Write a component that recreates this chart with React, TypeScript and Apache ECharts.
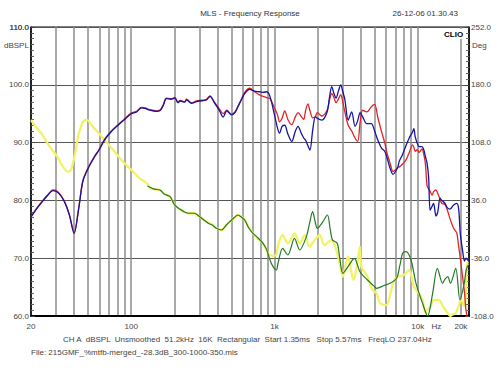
import React, { useEffect, useRef } from "react";
import * as echarts from "echarts";

// ---- Data ----
const magFreq = [
  20, 22, 24, 26, 28.5, 31, 34, 37, 40, 43,
  46, 50, 55.7, 60, 65, 72, 81, 90, 100, 109,
  118, 125, 135, 150, 160, 168, 176, 190, 202, 212,
  220, 236, 244, 263, 286, 300, 326, 336, 355, 383,
  395, 416, 438, 465, 500, 530, 556, 590, 620, 672,
  727, 780, 832, 880, 930, 1000, 1050, 1085, 1130, 1180,
  1240, 1320, 1400, 1460, 1540, 1600, 1650, 1710, 1770, 1845,
  1930, 1990, 2140, 2330, 2420, 2510, 2600, 2690, 2800, 2900,
  3000, 3100, 3270, 3460, 3650, 3810, 3960, 4120, 4410, 4740,
  5000, 5270, 5600, 5880, 6070, 6400, 6720, 7000, 7260, 7440,
  7850, 8280, 8720, 9180, 9390, 9600, 9920, 10200, 10700, 11000,
  11300, 11600, 11900, 12200, 12600, 12900, 13400, 13800, 14300, 14700,
  15500, 16000, 16800, 17500, 18000, 18700, 19300, 19800, 20500, 21200,
  21700, 22100, 22700,
];

const redDb = [
  77.2, 78.7, 79.9, 80.9, 81.8, 81.4, 80.0, 77.6, 74.4, 78.6,
  83.4, 85.6, 87.7, 88.9, 90.5, 91.9, 93.1, 94.1, 95.1, 95.4,
  96.1, 96.0, 95.7, 95.5, 95.7, 96.6, 97.7, 97.6, 97.8, 97.0,
  97.3, 97.1, 97.5, 96.9, 97.2, 97.3, 97.4, 97.5, 98.1, 96.9,
  96.5, 95.7, 95.0, 95.6, 94.9, 95.3, 96.3, 97.6, 98.7, 99.4,
  98.8, 98.3, 98.0, 97.8, 97.6, 96.0, 94.8, 93.6, 94.2, 95.5,
  94.0, 93.1, 94.5, 95.2, 94.5, 94.0, 95.6, 96.7, 95.5, 94.3,
  94.5, 95.2, 94.6, 95.6, 97.3, 98.5, 97.8, 96.9, 97.6, 98.3,
  97.0, 95.3, 93.0, 92.0, 90.8, 90.2, 93.5, 95.6, 95.3, 96.2,
  96.6, 94.3, 91.8, 90.0, 88.4, 86.5, 85.0, 85.3, 85.7, 85.8,
  86.3, 87.0, 88.3, 89.6, 89.2, 88.5, 88.8, 88.3, 88.9, 88.0,
  86.4, 82.6, 82.0, 81.6, 80.9, 81.5, 81.8, 81.2, 80.2, 79.5,
  79.3, 78.5, 76.8, 75.6, 75.0, 74.4, 72.0, 70.0, 67.0, 64.0,
  61.0, 60.0, 59.0,
];

const blueDb = [
  77.1, 78.6, 79.8, 80.8, 81.7, 81.3, 79.9, 77.5, 74.3, 78.5,
  83.3, 85.5, 87.6, 88.8, 90.4, 91.8, 93.0, 94.0, 95.0, 95.3,
  96.0, 95.9, 95.6, 95.4, 95.6, 96.5, 97.6, 97.5, 97.7, 96.9,
  97.2, 97.0, 97.4, 96.8, 97.1, 97.2, 97.3, 97.4, 98.0, 96.8,
  96.3, 95.4, 94.4, 95.5, 94.8, 95.2, 96.2, 97.5, 98.5, 99.2,
  98.9, 98.8, 98.7, 98.8, 98.0, 94.8, 92.5, 91.6, 92.8, 93.0,
  91.5, 90.2, 92.0, 92.8, 91.6, 90.8, 90.4, 89.5, 88.7, 92.0,
  94.5, 94.2, 93.9, 95.3, 97.8, 99.7, 98.5, 97.7, 99.0, 100.0,
  98.8, 97.4, 93.9, 95.3, 92.8, 93.8, 95.2, 94.5, 93.3, 93.3,
  92.0, 90.4, 89.0, 88.5, 87.6, 85.6, 84.5, 85.0, 85.8, 86.8,
  88.0, 89.5, 90.8, 91.8, 92.4, 91.0, 89.9, 89.3, 89.3, 88.8,
  87.6, 86.5, 84.1, 78.3, 79.0, 79.5, 77.3, 78.0, 80.4, 80.0,
  79.5, 78.8, 78.5, 79.0, 79.3, 79.5, 78.5, 74.3, 71.5, 69.5,
  70.0, 69.8, 69.5,
];

const yellowFreq = [
  20, 21.5, 23.6, 25.5, 27, 30.5, 33.4, 36.3, 38, 39.2,
  41, 42.6, 44.5, 46.1, 48.7, 51, 54.1, 60, 65.3, 70,
  76.8, 85, 95, 103, 111.7, 120, 128, 134.7, 145, 159,
  170, 187, 200, 215, 250, 275, 301, 320, 345, 370,
  393, 427, 460, 488, 520, 556, 590, 620, 660, 708,
  760, 832, 905, 970, 1030, 1059, 1140, 1240, 1380, 1500,
  1630, 1760, 1910, 2070, 2230, 2495, 2740, 2870, 3000, 3130,
  3260, 3410, 3570, 3800, 3950, 4040, 4460, 4800, 5160, 5460,
  6070, 6400, 6720, 7200, 8000, 8700, 9390, 10200, 10800, 11300,
  11700, 12300, 12900, 14000, 15000, 15900, 16900, 17500, 18400, 19300,
  20100, 21100, 21600, 21900, 22300,
];

const yellowDeg = [
  136, 128, 119.6, 110, 103, 90.4, 78, 71.8, 74, 82.2,
  98, 115.4, 127, 134, 136.2, 134, 127.8, 119, 111.2, 105,
  96.7, 87, 78, 72, 65.5, 61, 58, 52, 50, 49,
  44, 40.6, 31, 26, 20, 20, 15.7, 12, 8.5, 6,
  1.5, -0.9, 5, 9.5, 14, 17.8, 15, 11.6, 3, -5,
  -11, -17.4, -30, -33, -32, -19.6, -7.1, -17.4, -5, -17.4,
  -7.1, -21.6, -13.3, -7.1, -19.6, -13.3, -29.9, -45, -59, -45,
  -33.9, -50, -63.2, -40, -21.6, -46.5, -59, -75, -79.7, -92.2,
  -94.3, -82, -67.3, -59, -57, -50.7, -71.5, -80, -88, -104,
  -100, -96, -88, -88, -96, -102.6, -108, -106, -104.7, -95,
  -88, -96, -85, -50.7, -40,
];

const greenFreq = [
  130, 145, 159, 170, 187, 200, 215, 250, 275, 301,
  320, 345, 370, 393, 427, 460, 488, 520, 556, 590,
  620, 660, 708, 760, 832, 880, 950, 1030, 1059, 1140,
  1240, 1380, 1500, 1670, 1760, 1845, 1920, 1990, 2150, 2340,
  2450, 2540, 2740, 2850, 3000, 3260, 3610, 3950, 4460, 5000,
  5160, 5800, 6390, 7120, 7500, 7850, 8280, 8970, 9720, 10800,
  11700, 12700, 13700, 14900, 15500, 16200, 16900, 18400, 19700, 21100,
  21700, 22300,
];

const greenDeg = [
  54, 50, 49, 44, 40.6, 31, 26, 20, 20, 15.7,
  12, 7.5, 5, 1.2, -0.9, 5, 9.5, 14, 17.8, 15,
  11.6, 2, -5, -10, -17.4, -25, -42.3, -50.7, -42.3, -23.7,
  -32, -11.2, -25.8, -9.2, 8, 21.9, 10, 1.2, 8, 17.8,
  0, -13.3, -17.4, -35, -54.8, -46.5, -36.1, -52.8, -63.2, -71.5,
  -73.5, -70, -67.3, -61, -45, -29.9, -27.9, -38.3, -67.3, -92.2,
  -108, -79.7, -48.6, -67.3, -62, -59, -67.3, -48.6, -88, -67.3,
  -52, -45,
];

const gridFreqs = [
  20, 30, 40, 50, 60, 70, 80, 90, 100, 200, 300, 400, 500, 600, 700, 800, 900,
  1000, 2000, 3000, 4000, 5000, 6000, 7000, 8000, 9000, 10000, 20000,
];
const labelFreqs = [20, 100, 1000, 10000, 13500, 20000];
const labelTexts = ["20", "100", "1k", "10k", "Hz", "20k"];
const dbTicks = [60, 70, 80, 90, 100, 110];

const F_MIN = 20;
const F_MAX = 22780;
const DB_MIN = 60;
const DB_MAX = 110;
const DEG_MIN = -108; // phase axis bottom
const DEG_SPAN = 360;

const FONT = '"Liberation Sans", Arial, sans-serif';

export default function App() {
  const ref = useRef<HTMLDivElement>(null);

  useEffect(() => {
    if (!ref.current) return;
    const chart = echarts.init(ref.current, null, { renderer: "svg" });
    const lg = (f: number) => Math.log10(f);
    const labelLogs = labelFreqs.map(lg);

    const magRed = magFreq.map((f, i) => [lg(f), redDb[i]]);
    const magBlue = magFreq.map((f, i) => [lg(f), blueDb[i]]);
    const phYellow = yellowFreq.map((f, i) => [lg(f), yellowDeg[i] - DEG_MIN]);
    const phGreen = greenFreq.map((f, i) => [lg(f), greenDeg[i] - DEG_MIN]);

    const textStyle = { fontFamily: FONT, fontSize: 8, color: "#444" };

    chart.setOption({
      animation: false,
      backgroundColor: "#fff",
      grid: {
        left: 31,
        right: 31,
        top: 27,
        bottom: 59,
        containLabel: false,
        show: true,
        borderColor: "#000",
        borderWidth: 1,
        backgroundColor: "transparent",
      },
      xAxis: {
        type: "value",
        min: lg(F_MIN),
        max: lg(F_MAX),
        position: "bottom",
        axisLine: { show: true, onZero: false, lineStyle: { color: "#000", width: 2 } },
        axisTick: { show: false, customValues: gridFreqs.map(lg) },
        splitLine: { show: true, lineStyle: { color: "#8c8c8c", width: 1.5 } },
        axisLabel: {
          customValues: labelLogs,
          margin: 6,
          ...textStyle,
          formatter: (v: number) => {
            for (let i = 0; i < labelLogs.length; i++) {
              if (Math.abs(labelLogs[i] - v) < 1e-6) return labelTexts[i];
            }
            return "";
          },
        },
      },
      yAxis: [
        {
          type: "value",
          min: DB_MIN,
          max: DB_MAX,
          interval: 10,
          position: "left",
          axisLine: { show: true, onZero: false, lineStyle: { color: "#000", width: 1.5 } },
          axisTick: { show: true, inside: true, length: 4, lineStyle: { color: "#444" } },
          minorTick: { show: true, splitNumber: 10, length: 3, lineStyle: { color: "#666" } },
          splitLine: { show: true, lineStyle: { color: "#555", width: 1 } },
          axisLabel: {
            margin: 2,
            customValues: dbTicks,
            showMinLabel: true,
            showMaxLabel: true,
            hideOverlap: false,
            ...textStyle,
            formatter: (v: number) => v.toFixed(1),
          },
        },
        {
          type: "value",
          min: 0,
          max: DEG_SPAN,
          interval: 72,
          position: "right",
          axisLine: { show: true, onZero: false, lineStyle: { color: "#000", width: 1.5 } },
          axisTick: { show: true, inside: true, length: 4, lineStyle: { color: "#444" } },
          minorTick: { show: true, splitNumber: 10, length: 3, lineStyle: { color: "#666" } },
          splitLine: { show: false },
          axisLabel: {
            margin: 2,
            showMinLabel: true,
            showMaxLabel: true,
            hideOverlap: false,
            ...textStyle,
            formatter: (v: number) => (v + DEG_MIN).toFixed(1),
          },
        },
      ],
      series: [
        {
          type: "line",
          name: "phase A",
          yAxisIndex: 1,
          data: phYellow,
          showSymbol: false,
          symbol: "none",
          smooth: 0.3,
          lineStyle: { color: "#f2f266", width: 2.3 },
          z: 2,
        },
        {
          type: "line",
          name: "phase B",
          yAxisIndex: 1,
          data: phGreen,
          showSymbol: false,
          symbol: "none",
          smooth: 0.3,
          lineStyle: { color: "#237a23", width: 1.2 },
          z: 3,
        },
        {
          type: "line",
          name: "mag A",
          yAxisIndex: 0,
          data: magRed,
          showSymbol: false,
          symbol: "none",
          smooth: 0.3,
          lineStyle: { color: "#e02424", width: 1.3 },
          z: 4,
        },
        {
          type: "line",
          name: "mag B",
          yAxisIndex: 0,
          data: magBlue,
          showSymbol: false,
          symbol: "none",
          smooth: 0.3,
          lineStyle: { color: "#1414a0", width: 1.3 },
          z: 5,
        },
      ],
      graphic: [
        {
          type: "text",
          left: "center",
          top: 9,
          style: { text: "MLS - Frequency Response", font: `8px ${FONT}`, fill: "#333" },
        },
        {
          type: "text",
          right: 42,
          top: 9,
          style: { text: "26-12-06 01.30.43", font: `8px ${FONT}`, fill: "#333" },
        },
        {
          type: "text",
          left: 443,
          top: 29,
          z: 10,
          style: {
            text: "CLIO",
            font: `bold 8px ${FONT}`,
            fill: "#000",
            backgroundColor: "#fff",
            padding: [1, 1, 1, 1],
          },
        },
        {
          type: "text",
          x: 29,
          y: 27,
          style: {
            text: "110.0",
            font: `8px ${FONT}`,
            fill: "#444",
            align: "right",
            verticalAlign: "middle",
          },
        },
        {
          type: "text",
          left: 4,
          top: 41,
          style: { text: "dBSPL", font: `8px ${FONT}`, fill: "#444" },
        },
        {
          type: "text",
          left: 472,
          top: 41,
          style: { text: "Deg", font: `8px ${FONT}`, fill: "#444" },
        },
        {
          type: "text",
          left: 63,
          top: 335,
          style: {
            text: "CH A  dBSPL  Unsmoothed  51.2kHz  16K  Rectangular  Start 1.35ms   Stop 5.57ms   FreqLO 237.04Hz",
            font: `8px ${FONT}`,
            fill: "#444",
          },
        },
        {
          type: "text",
          left: 31,
          top: 348,
          style: {
            text: "File: 215GMF_%mtfb-merged_-28.3dB_300-1000-350.mls",
            font: `8px ${FONT}`,
            fill: "#444",
          },
        },
      ],
    });

    return () => chart.dispose();
  }, []);

  return (
    <div
      ref={ref}
      style={{ position: "fixed", left: 0, top: 0, width: 500, height: 375, background: "#fff" }}
    />
  );
}
